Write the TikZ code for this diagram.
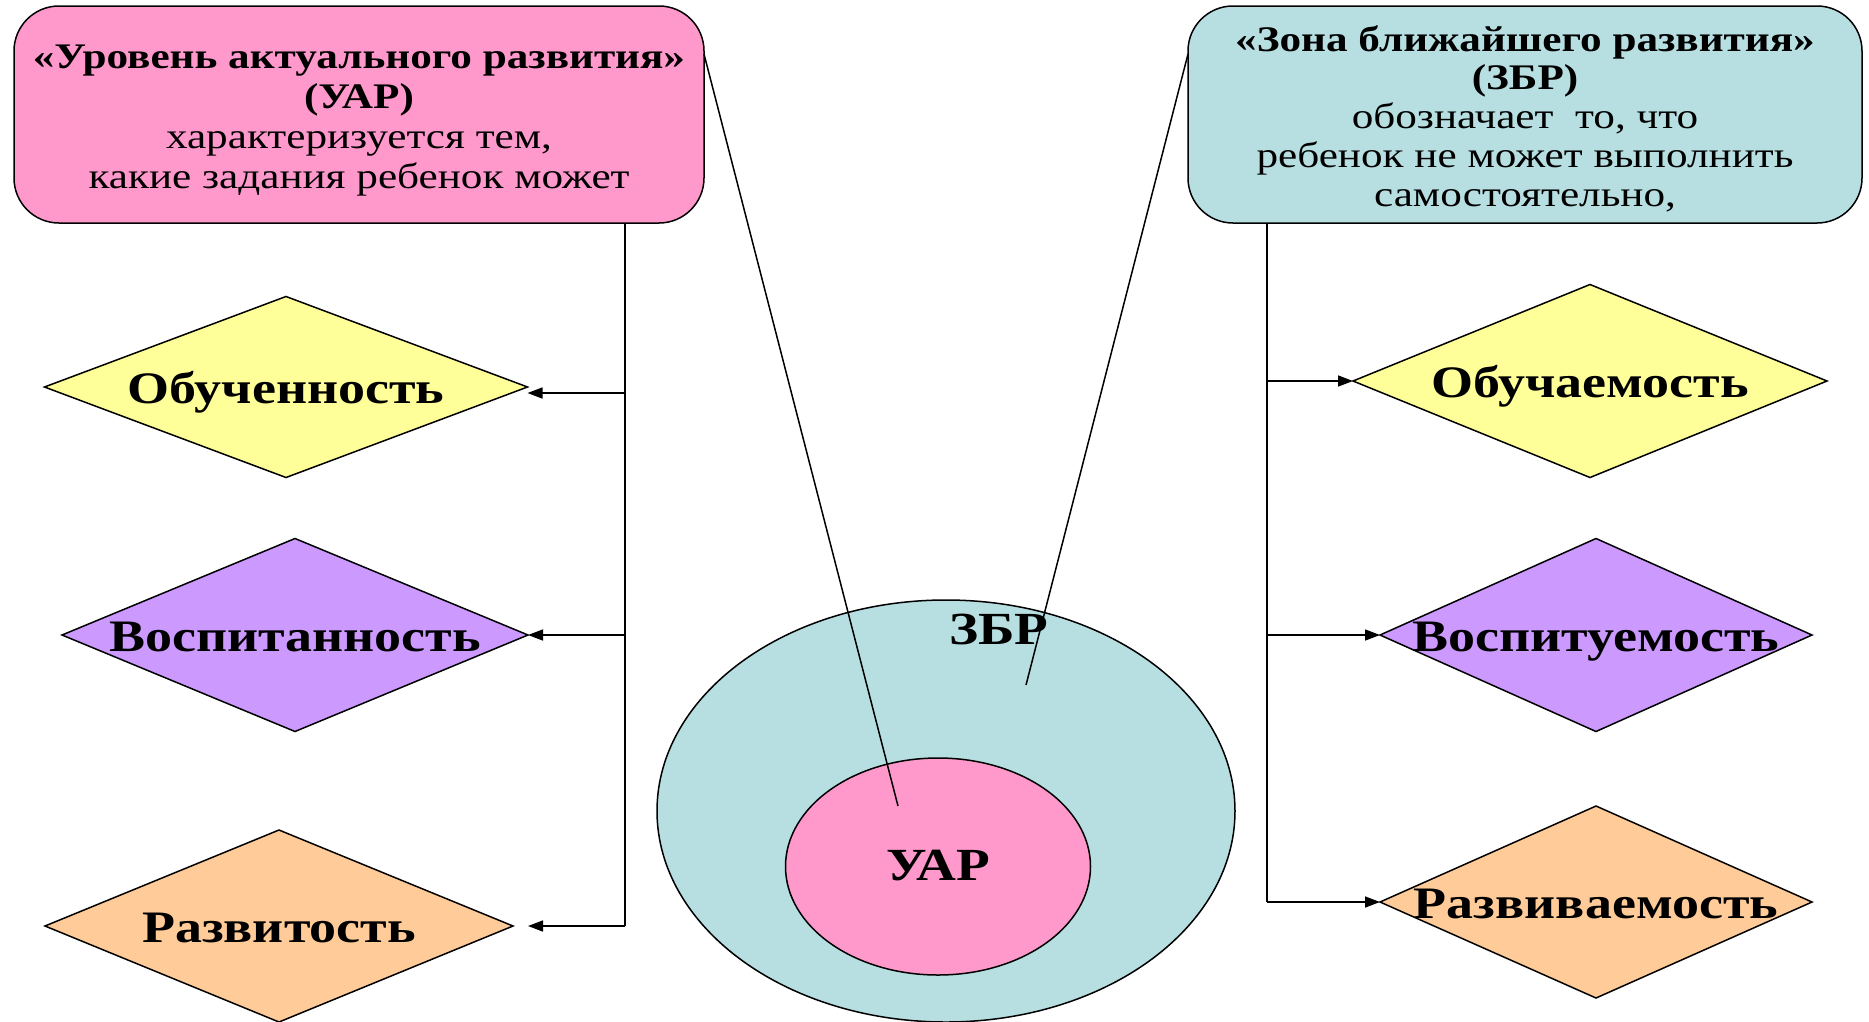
\documentclass[tikz,border=0pt]{standalone}
\usepackage{fontspec}
\setmainfont[FakeStretch=1.2]{Liberation Serif}
\usetikzlibrary{shapes.geometric,arrows.meta}
\definecolor{pinkf}{HTML}{FF99CC}
\definecolor{bluef}{HTML}{B7DFE2}
\definecolor{yelf}{HTML}{FFFF99}
\definecolor{purf}{HTML}{CC99FF}
\definecolor{orf}{HTML}{FFCC99}
\begin{document}
\begin{tikzpicture}[x=1pt,y=-1pt,line width=1.5pt,
 infobox/.style={draw,rounded corners=45pt,inner sep=0pt,outer sep=0pt,minimum height=217pt},
 boxtext/.style={align=center,inner sep=0pt},
 rhomb/.style={draw,diamond,inner sep=0pt,outer sep=0pt},
 rlabel/.style={anchor=base,inner sep=0pt,font=\fontsize{45}{48}\selectfont\bfseries},
 oval/.style={draw,ellipse,inner sep=0pt,outer sep=0pt},
 ovtext/.style={anchor=base,inner sep=0pt,font=\fontsize{46}{50}\selectfont\bfseries},
 conn/.style={-{Triangle[length=15pt,width=11pt]}}]
\useasboundingbox (0,0) rectangle (1869,1021);
% boxes
\node[infobox,fill=pinkf,minimum width=690pt] (lbox) at (359,114.5) {};
\node[boxtext,font=\fontsize{36}{40}\selectfont] (ltext) at ([yshift=-6pt]lbox.center)
 {\textbf{«Уровень актуального развития»}\\ \textbf{(УАР)}\\ характеризуется тем,\\ какие задания ребенок может};
\node[infobox,fill=bluef,minimum width=674pt] (rbox) at (1525,114.5) {};
\node[boxtext,font=\fontsize{36}{38.8}\selectfont] (rtext) at ([yshift=-4pt]rbox.center)
 {\textbf{«Зона ближайшего развития»}\\ \textbf{(ЗБР)}\\ обозначает\ \ то, что\\ ребенок не может выполнить\\ самостоятельно,};
% diamonds
\node[rhomb,fill=yelf,minimum width=483pt,minimum height=181pt] (d1) at (286,387) {};
\node[rlabel] (t1) at ([yshift=-16pt]d1.center) {Обученность};
\node[rhomb,fill=purf,minimum width=466pt,minimum height=193pt] (d2) at (295,635) {};
\node[rlabel] (t2) at ([yshift=-16pt]d2.center) {Воспитанность};
\node[rhomb,fill=orf,minimum width=468pt,minimum height=192pt] (d3) at (279,926) {};
\node[rlabel] (t3) at ([yshift=-16pt]d3.center) {Развитость};
\node[rhomb,fill=yelf,minimum width=474pt,minimum height=193pt] (d4) at (1590,381) {};
\node[rlabel] (t4) at ([yshift=-16pt]d4.center) {Обучаемость};
\node[rhomb,fill=purf,minimum width=432pt,minimum height=193pt] (d5) at (1596,635) {};
\node[rlabel] (t5) at ([yshift=-16pt]d5.center) {Воспитуемость};
\node[rhomb,fill=orf,minimum width=432pt,minimum height=192pt] (d6) at (1596,902) {};
\node[rlabel] (t6) at ([yshift=-16pt]d6.center) {Развиваемость};
% ellipses
\node[oval,fill=bluef,minimum width=578pt,minimum height=422pt] (zbr) at (946,811) {};
\node[oval,fill=pinkf,minimum width=305pt,minimum height=217pt] (uar) at (938,866.5) {};
\node[ovtext] (uart) at ([yshift=-14pt]uar.center) {УАР};
\node[ovtext] (zbrt) at (999,644) {ЗБР};
% left connectors
\coordinate (ltop) at (625,223);
\coordinate (lb1) at (625,393);
\coordinate (lb2) at (625,635);
\coordinate (lb3) at (625,926);
\coordinate (la3) at (528,926);
\draw (ltop) -- (lb3);
\draw[conn] (lb1) -- (lb1 -| d1.east);
\draw[conn] (lb2) -- (d2.east);
\draw[conn] (lb3) -- (la3);
% right connectors
\coordinate (rtop) at (1267,223);
\coordinate (rb1) at (1267,381);
\coordinate (rb2) at (1267,635);
\coordinate (rb3) at (1267,902);
\draw (rtop) -- (rb3);
\draw[conn] (rb1) -- (d4.west);
\draw[conn] (rb2) -- (d5.west);
\draw[conn] (rb3) -- (d6.west);
% pointer lines
\coordinate (lend) at (898,806);
\coordinate (rend) at (1026,685);
\draw ([yshift=-48pt]lbox.north east) -- (lend);
\draw ([yshift=-48pt]rbox.north west) -- (rend);
\end{tikzpicture}
\end{document}
